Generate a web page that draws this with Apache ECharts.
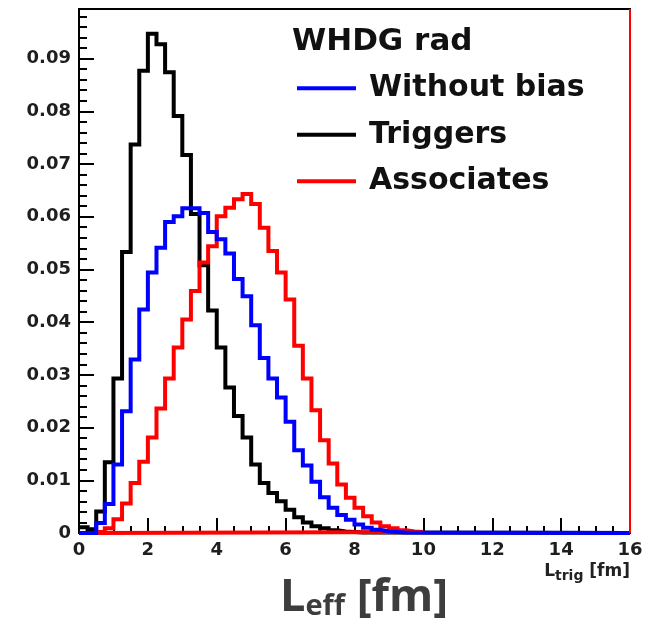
<!DOCTYPE html>
<html>
<head>
<meta charset="utf-8">
<script src="https://cdn.jsdelivr.net/npm/echarts@6/dist/echarts.min.js"></script>
<style>html,body{margin:0;padding:0;background:#fff}#c{width:651px;height:628px}</style>
</head>
<body>
<div id="c"></div>
<script>
// ---- data (histogram bin contents, bins of width 0.25 fm starting at 0) ----
const BIN_WIDTH = 0.25;
const seriesNames = ['Without bias', 'Triggers', 'Associates'];
const legendTitle = 'WHDG rad';
const withoutBias = [0, 0, 0.0019, 0.0055, 0.0130, 0.0231, 0.0329, 0.0424, 0.0494, 0.0541, 0.0590, 0.0601, 0.0616, 0.0616, 0.0607, 0.0571, 0.0557, 0.0530, 0.0482, 0.0449, 0.0394, 0.0332, 0.0293, 0.0257, 0.0211, 0.0157, 0.0128, 0.0097, 0.0068, 0.0048, 0.0034, 0.0025, 0.0016, 0.0010, 0.0006, 0.0003, 0.0002, 0.0001, 0];
const triggers = [0.0011, 0.0007, 0.0041, 0.0134, 0.0293, 0.0533, 0.0737, 0.0877, 0.0947, 0.0927, 0.0874, 0.0791, 0.0717, 0.0605, 0.0508, 0.0422, 0.0352, 0.0276, 0.0222, 0.0181, 0.0130, 0.0095, 0.0076, 0.0060, 0.0044, 0.0030, 0.0020, 0.0013, 0.0009, 0.0005, 0.0003, 0.0002, 0.0001, 0.0001, 0];
const associates = [0, 0, 0.0002, 0.0009, 0.0026, 0.0056, 0.0095, 0.0135, 0.0181, 0.0236, 0.0293, 0.0352, 0.0405, 0.0459, 0.0513, 0.0544, 0.0601, 0.0617, 0.0633, 0.0643, 0.0624, 0.0579, 0.0535, 0.0494, 0.0443, 0.0355, 0.0293, 0.0233, 0.0176, 0.0132, 0.0092, 0.0067, 0.0048, 0.0032, 0.0020, 0.0013, 0.0009, 0.0005, 0.0003, 0.0002];
const xMin = 0, xMax = 16, xInterval = 2;
const yMin = 0, yMax = 0.0994, yInterval = 0.01;
const xAxisName = ['L', 'trig', ' [fm]'];
const bigLabel = ['L', 'eff', ' [fm]'];

// ---- helpers ----
function openStep(values) {
  const pts = values.map((v, i) => [i * BIN_WIDTH, v]);
  pts.push([xMax, values[values.length - 1]]);
  return pts;
}
function closedStep(values) {
  let f = values.findIndex(v => v > 0);
  let l = values.length - 1;
  while (l > 0 && values[l] === 0) l--;
  const pts = [];
  for (let i = f; i <= l; i++) pts.push([i * BIN_WIDTH, values[i]]);
  pts.push([(l + 1) * BIN_WIDTH, values[l]]);
  pts.push([(l + 1) * BIN_WIDTH, 0]);
  pts.push([f * BIN_WIDTH, 0]);
  pts.push([f * BIN_WIDTH, values[f]]);
  return pts;
}

const FONT = "'DejaVu Sans', sans-serif";
const chart = echarts.init(document.getElementById('c'), null, {renderer: 'canvas'});

function histSeries(name, color, data, extra) {
  return Object.assign({
    name: name,
    type: 'line',
    step: 'end',
    data: data,
    showSymbol: false,
    symbol: 'none',
    clip: false,
    silent: true,
    animation: false,
    itemStyle: {color: color},
    lineStyle: {color: color, width: 4, join: 'miter', cap: 'butt'},
    emphasis: {disabled: true}
  }, extra || {});
}

const option = {
  animation: false,
  backgroundColor: '#fff',
  title: [
    {
      text: legendTitle, left: 292, top: 26, padding: 0,
      textStyle: {fontFamily: FONT, fontWeight: 'bold', fontSize: 31, color: '#111'}
    },
    {
      text: '{a|' + bigLabel[0] + '}{b|' + bigLabel[1] + '}{a|' + bigLabel[2] + '}',
      left: 280, top: 576, padding: 0,
      textStyle: {
        rich: {
          a: {fontFamily: "'Open Sans', sans-serif", fontWeight: 'bold', fontSize: 45, color: '#3d3d3d', lineHeight: 45, verticalAlign: 'top'},
          b: {fontFamily: "'Open Sans', sans-serif", fontWeight: 'bold', fontSize: 29, color: '#3d3d3d', lineHeight: 29, padding: [23, 0, 0, 0], verticalAlign: 'bottom'}
        }
      }
    },
    {
      text: '{a|' + xAxisName[0] + '}{b|' + xAxisName[1] + '}{a|' + xAxisName[2] + '}',
      right: 21, top: 563, padding: 0,
      textStyle: {
        rich: {
          a: {fontFamily: FONT, fontWeight: 'bold', fontSize: 17, color: '#222', lineHeight: 20, verticalAlign: 'top'},
          b: {fontFamily: FONT, fontWeight: 'bold', fontSize: 14, color: '#222', lineHeight: 16, padding: [12, 0, 0, 0], verticalAlign: 'bottom'}
        }
      }
    }
  ],
  legend: {
    data: seriesNames,
    orient: 'vertical',
    left: 297, top: 65, padding: 0,
    itemWidth: 59, itemHeight: 4, itemGap: 0,
    icon: 'rect',
    selectedMode: false,
    textStyle: {fontFamily: FONT, fontWeight: 'bold', fontSize: 30, color: '#111', lineHeight: 29.5, padding: [17, 0, 0, 8]}
  },
  grid: {left: 79, right: 21, top: 9, bottom: 95, show: true, borderColor: '#000', borderWidth: 2, containLabel: false, outerBoundsMode: 'none'},
  xAxis: {
    type: 'value', min: xMin, max: xMax, interval: xInterval,
    axisLine: {show: true, onZero: false, lineStyle: {color: '#000', width: 2}},
    axisTick: {show: true, inside: true, length: 15, lineStyle: {color: '#000', width: 2}},
    minorTick: {show: true, splitNumber: 4, length: 7, lineStyle: {color: '#000', width: 2}},
    splitLine: {show: false},
    minorSplitLine: {show: false},
    axisLabel: {margin: 8, fontFamily: FONT, fontWeight: 'bold', fontSize: 18, color: '#1e1e1e', hideOverlap: false}
  },
  yAxis: {
    type: 'value', min: yMin, max: yMax, interval: yInterval,
    axisLine: {show: true, onZero: false, lineStyle: {color: '#000', width: 2}},
    axisTick: {show: true, inside: true, length: 15, lineStyle: {color: '#000', width: 2}},
    minorTick: {show: true, splitNumber: 5, length: 8, lineStyle: {color: '#000', width: 2}},
    splitLine: {show: false},
    minorSplitLine: {show: false},
    axisLabel: {
      margin: 8, fontFamily: FONT, fontWeight: 'bold', fontSize: 18, color: '#1e1e1e',
      showMaxLabel: false,
      formatter: v => (v === 0 ? '0' : v.toFixed(2))
    }
  },
  series: [
    histSeries(seriesNames[1], '#000000', openStep(triggers), {z: 2}),
    histSeries(seriesNames[2], '#ff0000', closedStep(associates), {
      z: 3,
      markLine: {
        silent: true, symbol: 'none', animation: false,
        label: {show: false},
        lineStyle: {color: '#ff0000', width: 2, type: 'solid'},
        data: [{xAxis: xMax}]
      }
    }),
    histSeries(seriesNames[0], '#0000ff', openStep(withoutBias), {z: 4})
  ]
};
chart.setOption(option);
</script>
</body>
</html>
